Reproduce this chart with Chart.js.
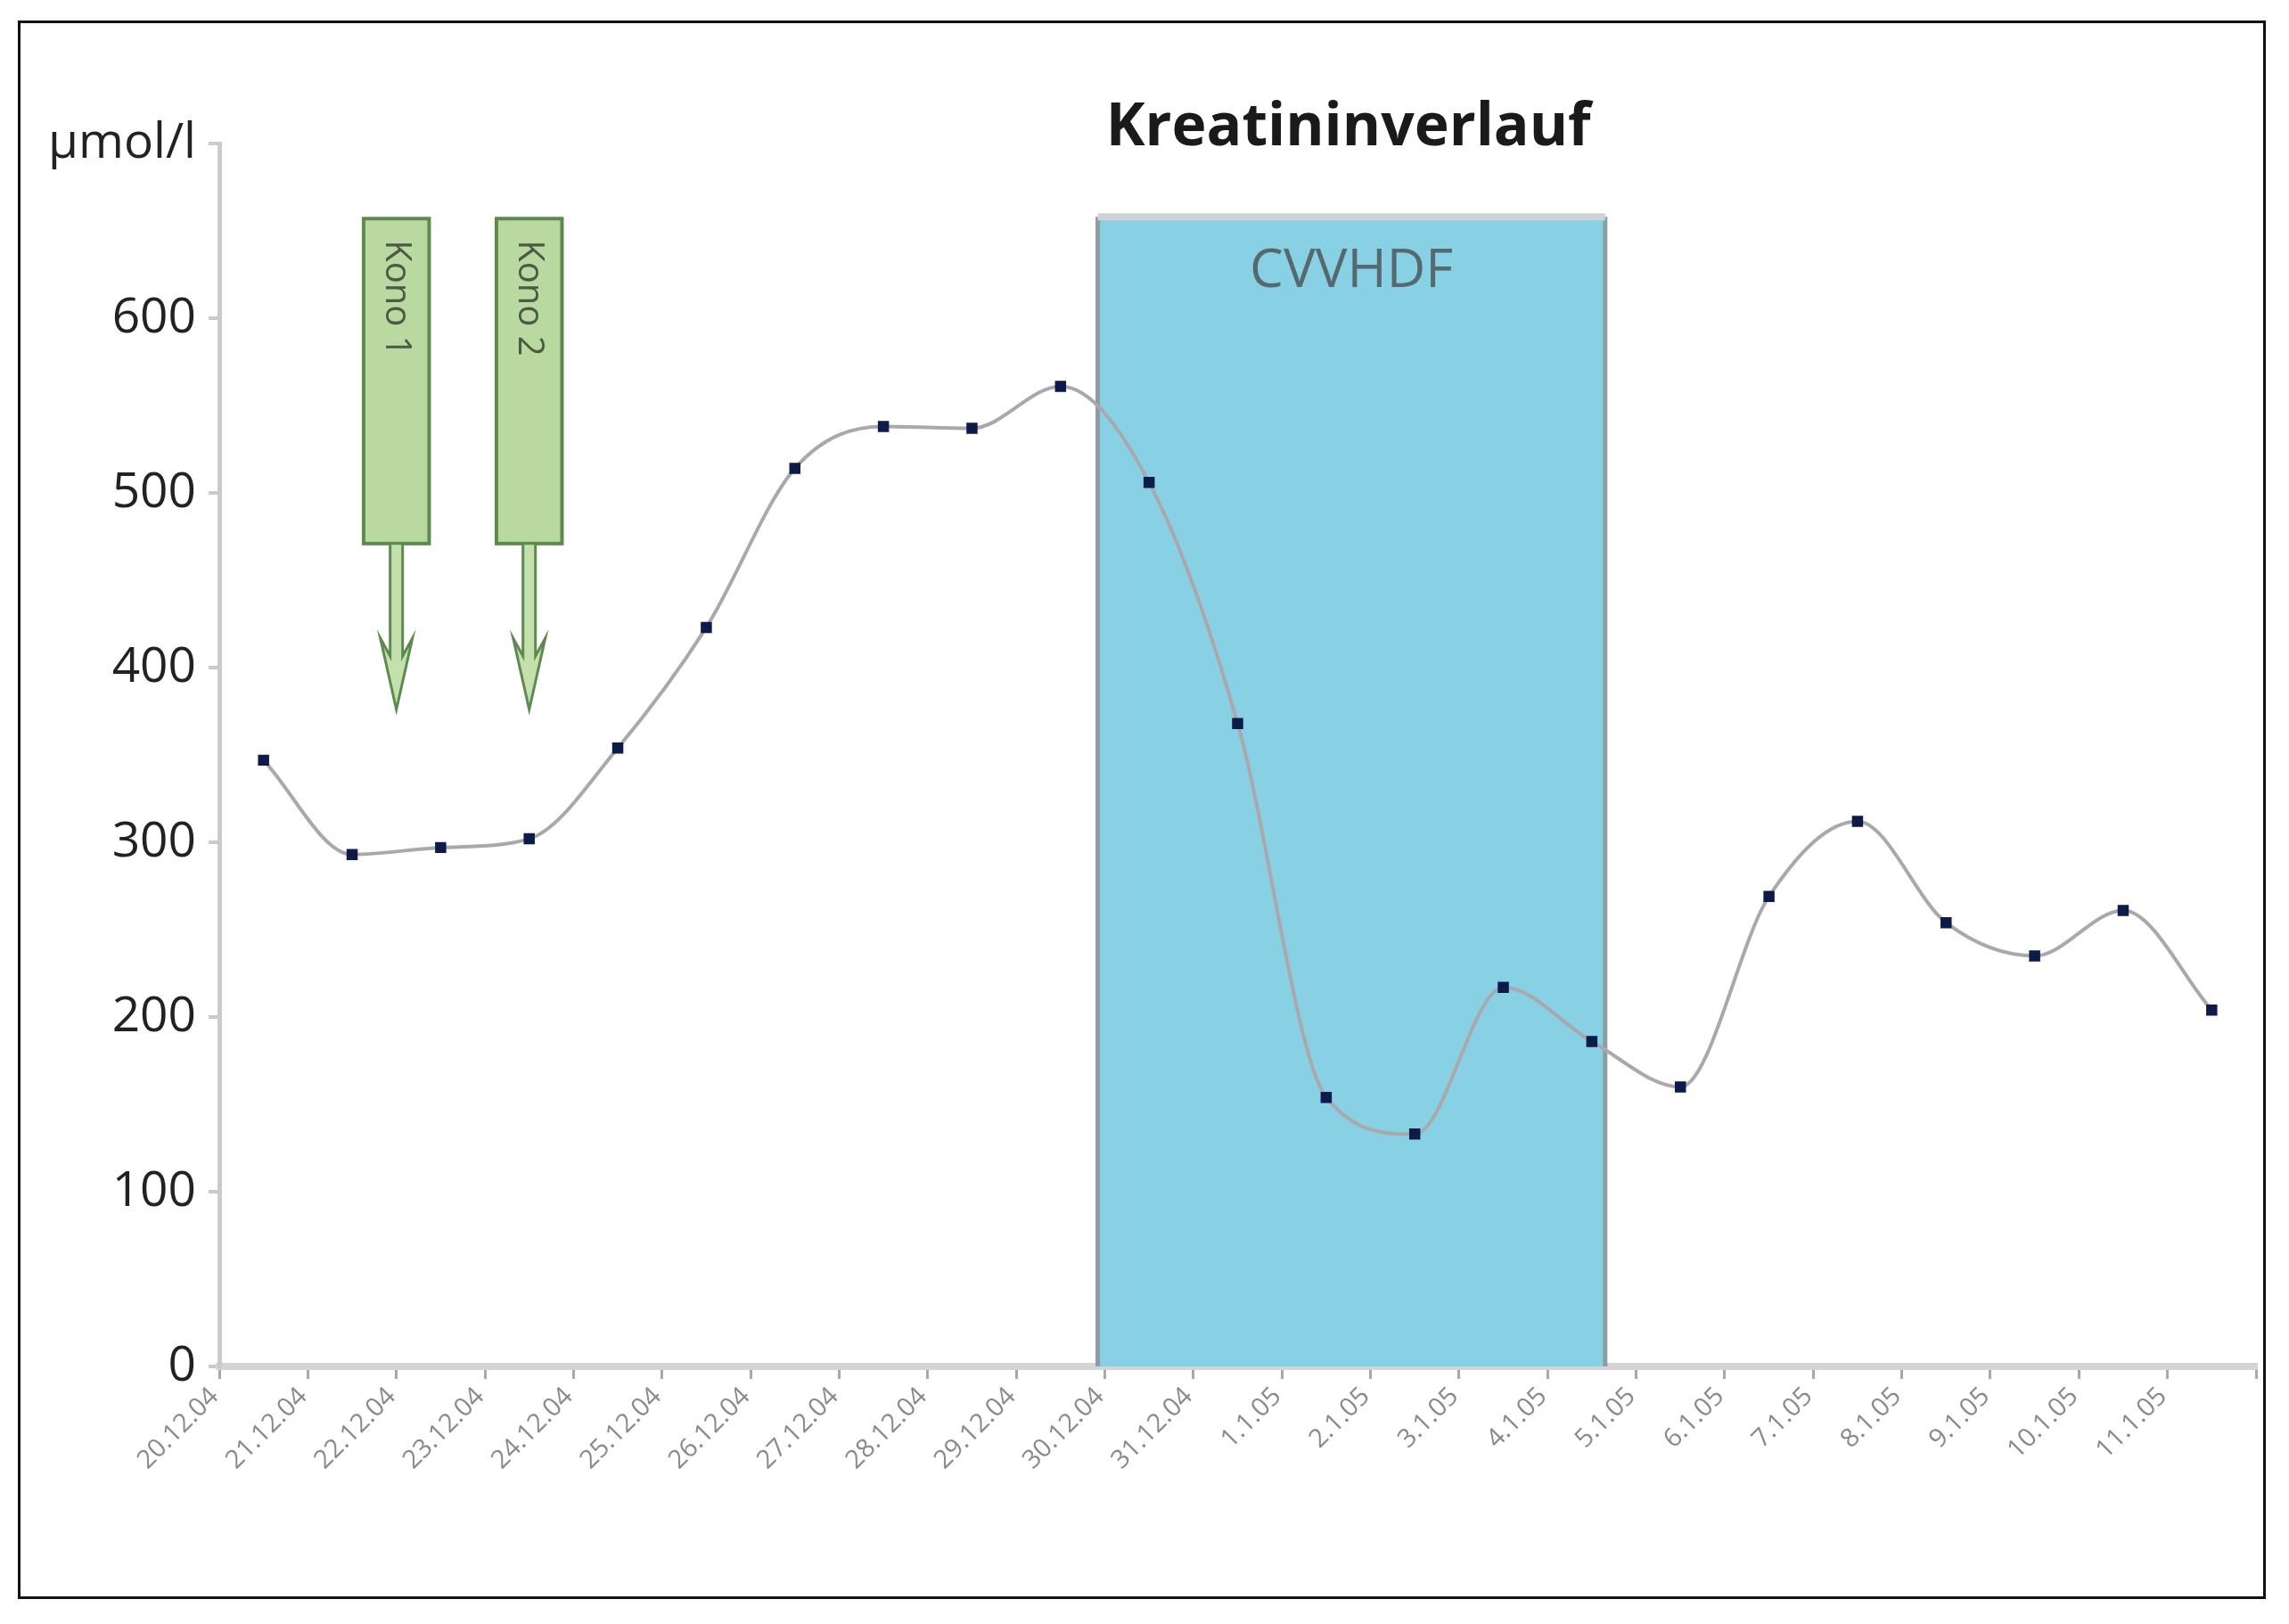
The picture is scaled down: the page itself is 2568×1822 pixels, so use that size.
<!DOCTYPE html>
<html><head><meta charset="utf-8">
<script src="https://cdn.jsdelivr.net/npm/chart.js@4"></script>
<style>
html,body{margin:0;padding:0;background:#fff;width:2568px;height:1822px;overflow:hidden}
#frame{position:absolute;left:20px;top:23px;width:2516px;height:1765px;border:3px solid #111}
#wrap{position:absolute;left:0;top:0;width:2568px;height:1822px}
</style></head>
<body>
<div id="frame"></div>
<div id="wrap"><canvas id="c"></canvas></div>
<script>
// Kreatinin, 20.12.04 - 11.1.05
const dates = ['20.12.04','21.12.04','22.12.04','23.12.04','24.12.04','25.12.04','26.12.04','27.12.04','28.12.04','29.12.04','30.12.04','31.12.04',
  '1.1.05','2.1.05','3.1.05','4.1.05','5.1.05','6.1.05','7.1.05','8.1.05','9.1.05','10.1.05','11.1.05'];
const kreatinin = [347,293,297,302,354,423,514,538,537,561,506,368,154,133,217,186,160,269,312,254,235,261,204];

// CVVHDF period (category index units) and Kono markers
const cvvhdf = { from: 9.42, to: 15.15, top: 658, label: 'CVVHDF' };
const konos = [ { at: 1.5, label: 'Kono 1' }, { at: 3.0, label: 'Kono 2' } ];
const konoBox = { top: 657, bottom: 471, tip: 376, halfWidth: 0.37 };

const overlay = {
  id: 'overlay',
  beforeDatasetsDraw(chart){
    const {ctx, scales:{x, y}} = chart;
    const l = x.getPixelForValue(cvvhdf.from), r = x.getPixelForValue(cvvhdf.to);
    const t = y.getPixelForValue(cvvhdf.top), b = y.getPixelForValue(0);
    ctx.save();
    ctx.fillStyle = '#88d0e4';
    ctx.fillRect(l, t, r-l, b-t);
    ctx.strokeStyle = '#8a9ea4'; ctx.lineWidth = 5;
    ctx.beginPath(); ctx.moveTo(l, b); ctx.lineTo(l, t); ctx.moveTo(r, t); ctx.lineTo(r, b); ctx.stroke();
    ctx.strokeStyle = '#cfd3d4'; ctx.lineWidth = 8;
    ctx.beginPath(); ctx.moveTo(l, t); ctx.lineTo(r, t); ctx.stroke();
    ctx.fillStyle = '#55696f'; ctx.font = '60px "Open Sans", sans-serif';
    ctx.textAlign = 'center'; ctx.textBaseline = 'middle';
    ctx.fillText(cvvhdf.label, (l+r)/2, t + 62);

    const step = x.getPixelForValue(1) - x.getPixelForValue(0);
    konos.forEach(k => {
      const cx = x.getPixelForValue(k.at), hw = konoBox.halfWidth*step;
      const kt = y.getPixelForValue(konoBox.top), kb = y.getPixelForValue(konoBox.bottom), tip = y.getPixelForValue(konoBox.tip);
      ctx.fillStyle = '#b9d9a0'; ctx.strokeStyle = '#5d8a4e'; ctx.lineWidth = 4;
      ctx.fillRect(cx-hw, kt, 2*hw, kb-kt); ctx.strokeRect(cx-hw, kt, 2*hw, kb-kt);
      ctx.fillStyle = '#c4e0ac';
      ctx.beginPath();
      ctx.moveTo(cx-7, kb); ctx.lineTo(cx-7, tip-60); ctx.lineTo(cx-18, tip-80); ctx.lineTo(cx, tip);
      ctx.lineTo(cx+18, tip-80); ctx.lineTo(cx+7, tip-60); ctx.lineTo(cx+7, kb); ctx.closePath();
      ctx.fill(); ctx.lineWidth = 3; ctx.stroke();
      ctx.save();
      ctx.translate(cx, kt + 24); ctx.rotate(Math.PI/2);
      ctx.fillStyle = '#4a5a44'; ctx.font = '40px "Open Sans", sans-serif';
      ctx.textAlign = 'left'; ctx.textBaseline = 'middle';
      ctx.fillText(k.label, 0, 0);
      ctx.restore();
    });
    ctx.fillStyle = '#1a1a1a'; ctx.font = 'bold 66px "Open Sans", sans-serif';
    ctx.textAlign = 'center'; ctx.textBaseline = 'middle';
    ctx.fillText('Kreatininverlauf', x.getPixelForValue(12.25), 144);
    ctx.restore();
  }
};

new Chart(document.getElementById('c'), {
  type: 'line',
  data: { labels: dates, datasets: [{
    data: kreatinin, borderColor: '#a9a9ad', borderWidth: 4, cubicInterpolationMode: 'monotone', tension: 0.4,
    pointStyle: 'rect', pointRadius: 6, pointBackgroundColor: '#0d1b4a', pointBorderColor: '#0d1b4a'
  }]},
  options: {
    responsive: true, maintainAspectRatio: false, animation: false,
    layout: { padding: { top: 161, right: 37, left: 0, bottom: 0 } },
    plugins: { legend: { display: false }, tooltip: { enabled: false } },
    scales: {
      x: {
        offset: true,
        afterFit(s){ s.height = 289; },
        border: { color: '#d3d4d6', width: 8 },
        grid: { offset: true, drawOnChartArea: false, color: '#a6a8ab', tickLength: 14, lineWidth: 3 },
        ticks: { autoSkip: false, maxRotation: 45, minRotation: 45, labelOffset: -55, color: '#8a8a8a',
          font: { family: 'Open Sans', size: 29 } }
      },
      y: {
        min: 0, max: 700,
        afterFit(s){ s.width = 246; },
        border: { color: '#c9cacc', width: 5 },
        grid: { drawOnChartArea: false, color: '#c9cacc', tickLength: 12, lineWidth: 4 },
        ticks: { stepSize: 100, color: '#222', padding: 14, font: { family: 'Open Sans', size: 55 },
          callback: v => v === 700 ? 'µmol/l' : v }
      }
    }
  },
  plugins: [overlay]
});
</script>
</body></html>
